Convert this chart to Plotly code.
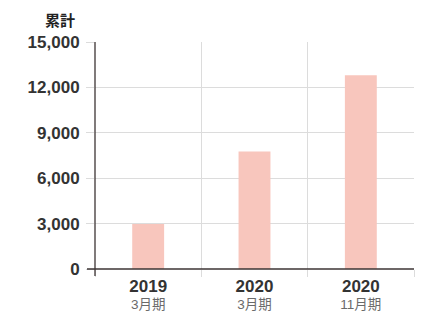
import plotly.graph_objects as go

years = ["2019", "2020", "2020"]
periods = ["3月期", "3月期", "11月期"]
values = [2980, 7760, 12800]
y_ticks = [0, 3000, 6000, 9000, 12000, 15000]

cats = [f"<span style='font-size:17px;color:#333333'><b>{y}</b></span><br>{p}"
        for y, p in zip(years, periods)]

GRID = "#dcdcdc"
AXIS = "#3c3434"
BAR = "#F8C6BD"

fig = go.Figure(go.Bar(x=cats, y=values, marker_color=BAR, marker_line_width=0, width=0.3))

fig.update_layout(
    width=426, height=323,
    margin=dict(l=95, r=12, t=42, b=54),
    plot_bgcolor="white", paper_bgcolor="white",
    showlegend=False,
    font=dict(family="Liberation Sans, Arial, sans-serif", color="#333333"),
)
fig.update_xaxes(
    type="category", range=[-0.5, 2.5], automargin=False,
    tickson="boundaries", ticks="outside", ticklen=7, tickcolor=GRID, tickwidth=1,
    showgrid=True, gridcolor=GRID, gridwidth=1,
    showline=False, zeroline=False,
    tickfont=dict(size=13.5, color="#6a6a6a",
                  family="Liberation Sans, Noto Sans CJK JP, sans-serif"),
    ticklabelstandoff=8,
)
fig.update_yaxes(
    range=[0, 15000], tickvals=y_ticks, tickformat=",", automargin=False,
    ticks="outside", ticklen=8, tickcolor=GRID, tickwidth=1,
    showgrid=True, gridcolor=GRID, gridwidth=1,
    showline=False, zeroline=False,
    tickfont=dict(size=17, color="#333333", weight="bold"),
    ticklabelstandoff=3,
)
# axis lines (slightly extended past origin)
fig.add_shape(type="line", xref="paper", yref="paper", x0=0, x1=0,
              ysizemode="pixel", yanchor=0, y0=-7, y1=227,
              line=dict(color=AXIS, width=1.3), layer="above")
fig.add_shape(type="line", xref="paper", yref="paper", y0=0, y1=0,
              xsizemode="pixel", xanchor=0, x0=-8, x1=319,
              line=dict(color=AXIS, width=1.3), layer="above")

fig.add_annotation(text="<b>累計</b>", xref="paper", yref="paper", x=0, y=1,
                   xanchor="right", yanchor="bottom", xshift=-18, yshift=10,
                   showarrow=False, font=dict(size=15, color="#222222",
                                              family="Noto Sans CJK JP, sans-serif"))

fig.write_html("out.html")
